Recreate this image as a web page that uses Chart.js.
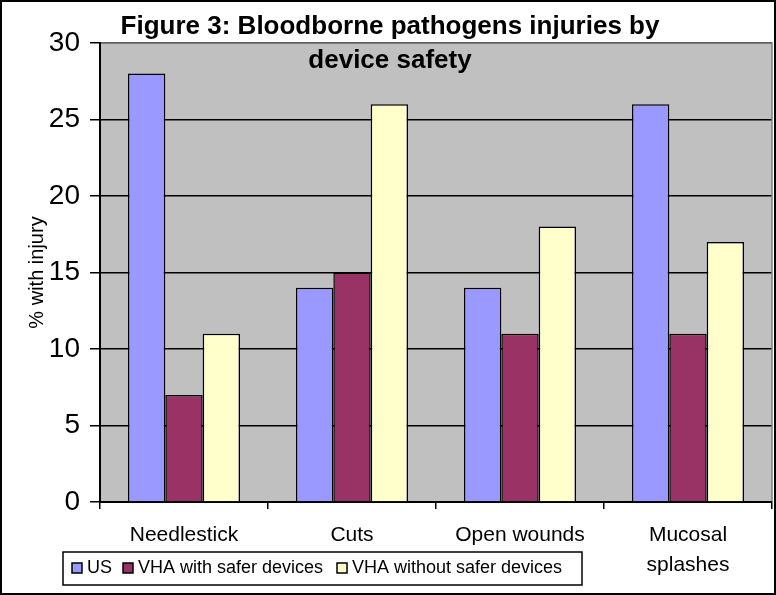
<!DOCTYPE html>
<html>
<head>
<meta charset="utf-8">
<script src="https://cdn.jsdelivr.net/npm/chart.js@4"></script>
<style>
  html, body { margin: 0; padding: 0; background: #fff; }
  #wrap { width: 776px; height: 595px; position: relative; }
</style>
</head>
<body>
<div id="wrap"><canvas id="graf"></canvas></div>
<script>
// data
const kategorie = ['Needlestick', 'Cuts', 'Open wounds', ['Mucosal', 'splashes']];
const us = [28, 14, 14, 26];
const vhaSafer = [7, 15, 11, 11];
const vhaWithout = [11, 26, 18, 17];
const nazvySerii = ['US', 'VHA with safer devices', 'VHA without safer devices'];
const barvy = ['#9999FF', '#993366', '#FFFFCC'];
const nadpis = ['Figure 3: Bloodborne pathogens injuries by', 'device safety'];
const osaY = '% with injury';

const font = 'Arial, "Liberation Sans", sans-serif';

// gray plot area, border, title, legend
const vzhled = {
    id: 'vzhled',
    beforeDraw(chart) {
        const { ctx, chartArea: a } = chart;
        ctx.save();
        ctx.fillStyle = '#C0C0C0';
        ctx.fillRect(a.left, a.top, a.right - a.left, a.bottom - a.top);
        ctx.restore();
    },
    afterDraw(chart) {
        const { ctx, chartArea: a } = chart;
        ctx.save();
        // gray top and right edge of plot
        ctx.strokeStyle = '#808080';
        ctx.lineWidth = 1.5;
        ctx.beginPath();
        ctx.moveTo(a.left + 1, a.top);
        ctx.lineTo(a.right, a.top);
        ctx.lineTo(a.right, a.bottom - 1);
        ctx.stroke();

        // title
        ctx.fillStyle = '#000';
        ctx.font = 'bold 26px ' + font;
        ctx.textAlign = 'center';
        ctx.textBaseline = 'middle';
        ctx.fillText(nadpis[0], 390, 27);
        ctx.fillText(nadpis[1], 390, 61);

        // legend
        ctx.strokeStyle = '#000';
        ctx.lineWidth = 1.5;
        ctx.strokeRect(63, 552, 519, 33);
        ctx.font = '18px ' + font;
        ctx.textAlign = 'left';
        const pozice = [72, 123, 337];
        chart.data.datasets.forEach((ds, i) => {
            ctx.fillStyle = ds.backgroundColor;
            ctx.fillRect(pozice[i], 563, 10, 10);
            ctx.strokeRect(pozice[i], 563, 10, 10);
            ctx.fillStyle = '#000';
            ctx.fillText(ds.label, pozice[i] + 15, 568);
        });

        // outer frame
        ctx.lineWidth = 2;
        ctx.strokeRect(1, 1, chart.width - 2, chart.height - 2);
        ctx.restore();
    }
};

const ctx = document.getElementById('graf').getContext('2d');
new Chart(ctx, {
    type: 'bar',
    data: {
        labels: kategorie,
        datasets: [
            { label: nazvySerii[0], data: us, backgroundColor: barvy[0] },
            { label: nazvySerii[1], data: vhaSafer, backgroundColor: barvy[1] },
            { label: nazvySerii[2], data: vhaWithout, backgroundColor: barvy[2] }
        ].map(d => Object.assign(d, {
            borderColor: '#000',
            borderWidth: 1.5,
            categoryPercentage: 0.667,
            barPercentage: 1
        }))
    },
    options: {
        responsive: true,
        maintainAspectRatio: false,
        animation: false,
        layout: { padding: { top: 43, right: 4, left: 25, bottom: 0 } },
        plugins: {
            legend: { display: false },
            tooltip: { enabled: false }
        },
        scales: {
            x: {
                afterFit(scale) { scale.height = 93; },
                grid: {
                    offset: true,
                    drawOnChartArea: false,
                    color: '#000',
                    lineWidth: 1.5,
                    tickLength: 7
                },
                border: { color: '#000', width: 2 },
                ticks: {
                    color: '#000',
                    padding: 11,
                    maxRotation: 0,
                    autoSkip: false,
                    font: { family: font, size: 21, lineHeight: 1.45 }
                }
            },
            y: {
                min: 0,
                max: 30,
                afterFit(scale) { scale.width = 75; },
                grid: {
                    color: '#000',
                    lineWidth: 1.5,
                    tickLength: 10
                },
                border: { color: '#000', width: 2 },
                ticks: {
                    stepSize: 5,
                    color: '#000',
                    padding: 10,
                    font: { family: font, size: 28 }
                },
                title: {
                    display: true,
                    text: osaY,
                    color: '#000',
                    padding: { top: 0, bottom: 0 },
                    font: { family: font, size: 20 }
                }
            }
        }
    },
    plugins: [vzhled]
});
</script>
</body>
</html>
